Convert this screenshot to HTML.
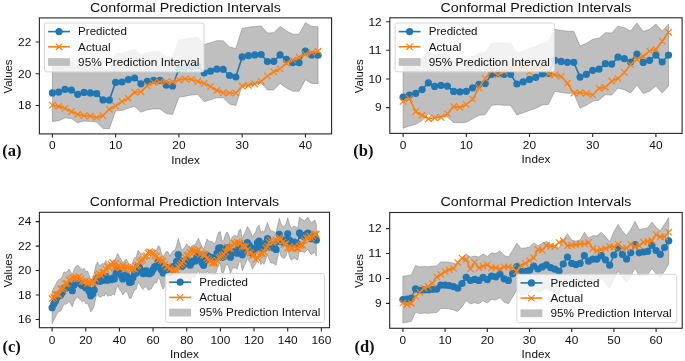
<!DOCTYPE html>
<html><head><meta charset="utf-8"><style>
html,body{margin:0;padding:0;background:#fff;}
svg{display:block;}
#w{will-change:transform;width:685px;height:361px;}
text{font-family:"Liberation Sans",sans-serif;fill:#111;}
.pl{font-family:"Liberation Serif",serif;font-weight:bold;font-size:16.5px;}
</style></head><body><div id="w">
<svg width="685" height="361" viewBox="0 0 685 361">
<rect width="685" height="361" fill="#fff"/>
<clipPath id="clipa"><rect x="39.4" y="17.9" width="292.2" height="116"/></clipPath>
<g clip-path="url(#clipa)">
<polygon points="52.4,64.4 58.73,63.7 65.05,60.8 71.38,61.6 77.7,65.8 84.03,63.9 90.35,64.4 96.67,65.2 103,71.4 109.33,71.7 115.65,53.8 121.97,53.5 128.3,51.1 134.62,49.5 140.95,55.3 147.28,52.8 153.6,51.9 159.93,51.9 166.25,56.6 172.57,57.4 178.9,40.2 185.23,39.2 191.55,38 197.88,37.6 204.2,44.5 210.53,42.7 216.85,40.7 223.18,40.8 229.5,47 235.83,48.5 242.15,28.4 248.48,27.2 254.8,26.4 261.12,26 267.45,33 273.77,32.8 280.1,26.4 286.43,30.9 292.75,34.2 299.07,34.2 305.4,22.7 311.72,26.4 318.05,26.7 318.05,83.7 311.72,83.4 305.4,79.7 299.07,91.2 292.75,91.2 286.43,87.9 280.1,83.4 273.77,89.8 267.45,90 261.12,83 254.8,83.4 248.48,84.2 242.15,85.4 235.83,105.5 229.5,104 223.18,97.8 216.85,97.7 210.53,99.7 204.2,101.5 197.88,94.6 191.55,95 185.23,96.2 178.9,97.2 172.57,114.4 166.25,113.6 159.93,108.9 153.6,108.9 147.28,109.8 140.95,112.3 134.62,106.5 128.3,108.1 121.97,110.5 115.65,110.8 109.33,128.7 103,128.4 96.67,122.2 90.35,121.4 84.03,120.9 77.7,122.8 71.38,118.6 65.05,117.8 58.73,120.7 52.4,121.4" fill="#808080" fill-opacity="0.5" stroke="#808080" stroke-opacity="0.5" stroke-width="1" stroke-linejoin="round"/>
<polyline points="52.4,92.9 58.73,92.2 65.05,89.3 71.38,90.1 77.7,94.3 84.03,92.4 90.35,92.9 96.67,93.7 103,99.9 109.33,100.2 115.65,82.3 121.97,82 128.3,79.6 134.62,78 140.95,83.8 147.28,81.3 153.6,80.4 159.93,80.4 166.25,85.1 172.57,85.9 178.9,68.7 185.23,67.7 191.55,66.5 197.88,66.1 204.2,73 210.53,71.2 216.85,69.2 223.18,69.3 229.5,75.5 235.83,77 242.15,56.9 248.48,55.7 254.8,54.9 261.12,54.5 267.45,61.5 273.77,61.3 280.1,54.9 286.43,59.4 292.75,62.7 299.07,62.7 305.4,51.2 311.72,54.9 318.05,55.2" fill="none" stroke="#1f77b4" stroke-width="1.6" stroke-linejoin="round"/>
<g fill="#1f77b4"><circle cx="52.4" cy="92.9" r="3.6"/><circle cx="58.73" cy="92.2" r="3.6"/><circle cx="65.05" cy="89.3" r="3.6"/><circle cx="71.38" cy="90.1" r="3.6"/><circle cx="77.7" cy="94.3" r="3.6"/><circle cx="84.03" cy="92.4" r="3.6"/><circle cx="90.35" cy="92.9" r="3.6"/><circle cx="96.67" cy="93.7" r="3.6"/><circle cx="103" cy="99.9" r="3.6"/><circle cx="109.33" cy="100.2" r="3.6"/><circle cx="115.65" cy="82.3" r="3.6"/><circle cx="121.97" cy="82" r="3.6"/><circle cx="128.3" cy="79.6" r="3.6"/><circle cx="134.62" cy="78" r="3.6"/><circle cx="140.95" cy="83.8" r="3.6"/><circle cx="147.28" cy="81.3" r="3.6"/><circle cx="153.6" cy="80.4" r="3.6"/><circle cx="159.93" cy="80.4" r="3.6"/><circle cx="166.25" cy="85.1" r="3.6"/><circle cx="172.57" cy="85.9" r="3.6"/><circle cx="178.9" cy="68.7" r="3.6"/><circle cx="185.23" cy="67.7" r="3.6"/><circle cx="191.55" cy="66.5" r="3.6"/><circle cx="197.88" cy="66.1" r="3.6"/><circle cx="204.2" cy="73" r="3.6"/><circle cx="210.53" cy="71.2" r="3.6"/><circle cx="216.85" cy="69.2" r="3.6"/><circle cx="223.18" cy="69.3" r="3.6"/><circle cx="229.5" cy="75.5" r="3.6"/><circle cx="235.83" cy="77" r="3.6"/><circle cx="242.15" cy="56.9" r="3.6"/><circle cx="248.48" cy="55.7" r="3.6"/><circle cx="254.8" cy="54.9" r="3.6"/><circle cx="261.12" cy="54.5" r="3.6"/><circle cx="267.45" cy="61.5" r="3.6"/><circle cx="273.77" cy="61.3" r="3.6"/><circle cx="280.1" cy="54.9" r="3.6"/><circle cx="286.43" cy="59.4" r="3.6"/><circle cx="292.75" cy="62.7" r="3.6"/><circle cx="299.07" cy="62.7" r="3.6"/><circle cx="305.4" cy="51.2" r="3.6"/><circle cx="311.72" cy="54.9" r="3.6"/><circle cx="318.05" cy="55.2" r="3.6"/></g>
<polyline points="52.4,105.1 58.73,106.3 65.05,108.4 71.38,111.6 77.7,114.3 84.03,115.6 90.35,116.1 96.67,117.5 103,115.6 109.33,109.3 115.65,106 121.97,101.5 128.3,98.3 134.62,92.2 140.95,91.8 147.28,85.7 153.6,82.5 159.93,82 166.25,81.5 172.57,81.8 178.9,79.9 185.23,78.8 191.55,79.4 197.88,81.3 204.2,83.4 210.53,86.6 216.85,90.3 223.18,92.8 229.5,93 235.83,93 242.15,86.2 248.48,85.4 254.8,83.9 261.12,81.3 267.45,76 273.77,71.8 280.1,69 286.43,63.2 292.75,60 299.07,57.2 305.4,54.3 311.72,52.5 318.05,51.2" fill="none" stroke="#ff7f0e" stroke-width="1.6" stroke-linejoin="round"/>
<path d="M49.2 101.9L55.6 108.3M49.2 108.3L55.6 101.9M55.52 103.1L61.93 109.5M55.52 109.5L61.93 103.1M61.85 105.2L68.25 111.6M61.85 111.6L68.25 105.2M68.17 108.4L74.58 114.8M68.17 114.8L74.58 108.4M74.5 111.1L80.9 117.5M74.5 117.5L80.9 111.1M80.83 112.4L87.23 118.8M80.83 118.8L87.23 112.4M87.15 112.9L93.55 119.3M87.15 119.3L93.55 112.9M93.47 114.3L99.88 120.7M93.47 120.7L99.88 114.3M99.8 112.4L106.2 118.8M99.8 118.8L106.2 112.4M106.12 106.1L112.53 112.5M106.12 112.5L112.53 106.1M112.45 102.8L118.85 109.2M112.45 109.2L118.85 102.8M118.77 98.3L125.17 104.7M118.77 104.7L125.17 98.3M125.1 95.1L131.5 101.5M125.1 101.5L131.5 95.1M131.43 89L137.82 95.4M131.43 95.4L137.82 89M137.75 88.6L144.15 95M137.75 95L144.15 88.6M144.08 82.5L150.47 88.9M144.08 88.9L150.47 82.5M150.4 79.3L156.8 85.7M150.4 85.7L156.8 79.3M156.73 78.8L163.12 85.2M156.73 85.2L163.12 78.8M163.05 78.3L169.45 84.7M163.05 84.7L169.45 78.3M169.38 78.6L175.77 85M169.38 85L175.77 78.6M175.7 76.7L182.1 83.1M175.7 83.1L182.1 76.7M182.03 75.6L188.43 82M182.03 82L188.43 75.6M188.35 76.2L194.75 82.6M188.35 82.6L194.75 76.2M194.68 78.1L201.07 84.5M194.68 84.5L201.07 78.1M201 80.2L207.4 86.6M201 86.6L207.4 80.2M207.33 83.4L213.72 89.8M207.33 89.8L213.72 83.4M213.65 87.1L220.05 93.5M213.65 93.5L220.05 87.1M219.98 89.6L226.38 96M219.98 96L226.38 89.6M226.3 89.8L232.7 96.2M226.3 96.2L232.7 89.8M232.63 89.8L239.03 96.2M232.63 96.2L239.03 89.8M238.95 83L245.35 89.4M238.95 89.4L245.35 83M245.28 82.2L251.68 88.6M245.28 88.6L251.68 82.2M251.6 80.7L258 87.1M251.6 87.1L258 80.7M257.93 78.1L264.32 84.5M257.93 84.5L264.32 78.1M264.25 72.8L270.65 79.2M264.25 79.2L270.65 72.8M270.57 68.6L276.97 75M270.57 75L276.97 68.6M276.9 65.8L283.3 72.2M276.9 72.2L283.3 65.8M283.23 60L289.62 66.4M283.23 66.4L289.62 60M289.55 56.8L295.95 63.2M289.55 63.2L295.95 56.8M295.88 54L302.27 60.4M295.88 60.4L302.27 54M302.2 51.1L308.6 57.5M302.2 57.5L308.6 51.1M308.52 49.3L314.92 55.7M308.52 55.7L314.92 49.3M314.85 48L321.25 54.4M314.85 54.4L321.25 48" stroke="#ff7f0e" stroke-width="1.2" fill="none"/>
</g>
<rect x="39.4" y="17.9" width="292.2" height="116" fill="none" stroke="#262626" stroke-width="1.1"/>
<text x="52.4" y="149" font-size="10.59" text-anchor="middle" textLength="6.62" lengthAdjust="spacingAndGlyphs">0</text>
<text x="115.65" y="149" font-size="10.59" text-anchor="middle" textLength="13.23" lengthAdjust="spacingAndGlyphs">10</text>
<text x="178.9" y="149" font-size="10.59" text-anchor="middle" textLength="13.23" lengthAdjust="spacingAndGlyphs">20</text>
<text x="242.15" y="149" font-size="10.59" text-anchor="middle" textLength="13.23" lengthAdjust="spacingAndGlyphs">30</text>
<text x="305.4" y="149" font-size="10.59" text-anchor="middle" textLength="13.23" lengthAdjust="spacingAndGlyphs">40</text>
<text x="31.3" y="45.8" font-size="10.59" text-anchor="end" textLength="13.23" lengthAdjust="spacingAndGlyphs">22</text>
<text x="31.3" y="77.5" font-size="10.59" text-anchor="end" textLength="13.23" lengthAdjust="spacingAndGlyphs">20</text>
<text x="31.3" y="109.3" font-size="10.59" text-anchor="end" textLength="13.23" lengthAdjust="spacingAndGlyphs">18</text>
<path d="M52.4 133.9V137.6M115.65 133.9V137.6M178.9 133.9V137.6M242.15 133.9V137.6M305.4 133.9V137.6M39.4 42H35.7M39.4 73.7H35.7M39.4 105.5H35.7" stroke="#262626" stroke-width="1.1"/>
<text x="185.5" y="163.6" font-size="10.59" text-anchor="middle" textLength="28.63" lengthAdjust="spacingAndGlyphs">Index</text>
<g transform="translate(12.3,76.5) rotate(-90)"><text x="0" y="0" font-size="10.59" text-anchor="middle" textLength="33.98" lengthAdjust="spacingAndGlyphs">Values</text></g>
<text x="185.5" y="11.8" font-size="12.85" text-anchor="middle" textLength="190.82" lengthAdjust="spacingAndGlyphs">Conformal Prediction Intervals</text>
<text x="2.3" y="155.5" class="pl">(a)</text>
<rect x="44.5" y="23" width="159.5" height="48.9" rx="2" ry="2" fill="#ffffff" fill-opacity="0.8" stroke="#d6d6d6" stroke-width="1"/>
<path d="M48.1 31.6H69.9" stroke="#1f77b4" stroke-width="1.6"/>
<circle cx="59" cy="31.6" r="3.6" fill="#1f77b4"/>
<path d="M48.1 46.8H69.9" stroke="#ff7f0e" stroke-width="1.6"/>
<path d="M55.8 43.6L62.2 50M55.8 50L62.2 43.6" stroke="#ff7f0e" stroke-width="1.1"/>
<rect x="48.1" y="58.1" width="21.8" height="7.8" fill="#bfbfbf"/>
<text x="78.1" y="35.3" font-size="10.59" text-anchor="start" textLength="48.82" lengthAdjust="spacingAndGlyphs">Predicted</text>
<text x="78.1" y="50.5" font-size="10.59" text-anchor="start" textLength="32.58" lengthAdjust="spacingAndGlyphs">Actual</text>
<text x="78.1" y="65.7" font-size="10.59" text-anchor="start" textLength="121.22" lengthAdjust="spacingAndGlyphs">95% Prediction Interval</text>
<clipPath id="clipb"><rect x="389.8" y="17.8" width="292.3" height="115.6"/></clipPath>
<g clip-path="url(#clipb)">
<polygon points="403.1,66.2 409.42,64 415.74,62.3 422.06,58.6 428.38,51.8 434.7,55.4 441.02,54.3 447.34,55.1 453.66,60.4 459.98,60.8 466.3,60.3 472.62,56.8 478.94,53.3 485.26,52.6 491.58,43.3 497.9,42.7 504.22,43.3 510.54,43.3 516.86,53 523.18,50.8 529.5,48.4 535.82,46.3 542.14,43 548.46,42.3 554.78,29.3 561.1,30.4 567.42,31.3 573.74,31.3 580.06,46.1 586.38,43.3 592.7,39.3 599.02,38.2 605.34,32.7 611.66,33.1 617.98,26.2 624.3,27.7 630.62,31 636.94,23.1 643.26,31.4 649.58,29.3 655.9,24.1 662.22,31 668.54,24.1 668.54,86.1 662.22,93 655.9,86.1 649.58,91.3 643.26,93.4 636.94,85.1 630.62,93 624.3,89.7 617.98,88.2 611.66,95.1 605.34,94.7 599.02,100.2 592.7,101.3 586.38,105.3 580.06,108.1 573.74,93.3 567.42,93.3 561.1,92.4 554.78,91.3 548.46,104.3 542.14,105 535.82,108.3 529.5,110.4 523.18,112.8 516.86,115 510.54,105.3 504.22,105.3 497.9,104.7 491.58,105.3 485.26,114.6 478.94,115.3 472.62,118.8 466.3,122.3 459.98,122.8 453.66,122.4 447.34,117.1 441.02,116.3 434.7,117.4 428.38,113.8 422.06,120.6 415.74,124.3 409.42,126 403.1,128.2" fill="#808080" fill-opacity="0.5" stroke="#808080" stroke-opacity="0.5" stroke-width="1" stroke-linejoin="round"/>
<polyline points="403.1,97.2 409.42,95 415.74,93.3 422.06,89.6 428.38,82.8 434.7,86.4 441.02,85.3 447.34,86.1 453.66,91.4 459.98,91.8 466.3,91.3 472.62,87.8 478.94,84.3 485.26,83.6 491.58,74.3 497.9,73.7 504.22,74.3 510.54,74.3 516.86,84 523.18,81.8 529.5,79.4 535.82,77.3 542.14,74 548.46,73.3 554.78,60.3 561.1,61.4 567.42,62.3 573.74,62.3 580.06,77.1 586.38,74.3 592.7,70.3 599.02,69.2 605.34,63.7 611.66,64.1 617.98,57.2 624.3,58.7 630.62,62 636.94,54.1 643.26,62.4 649.58,60.3 655.9,55.1 662.22,62 668.54,55.1" fill="none" stroke="#1f77b4" stroke-width="1.6" stroke-linejoin="round"/>
<g fill="#1f77b4"><circle cx="403.1" cy="97.2" r="3.6"/><circle cx="409.42" cy="95" r="3.6"/><circle cx="415.74" cy="93.3" r="3.6"/><circle cx="422.06" cy="89.6" r="3.6"/><circle cx="428.38" cy="82.8" r="3.6"/><circle cx="434.7" cy="86.4" r="3.6"/><circle cx="441.02" cy="85.3" r="3.6"/><circle cx="447.34" cy="86.1" r="3.6"/><circle cx="453.66" cy="91.4" r="3.6"/><circle cx="459.98" cy="91.8" r="3.6"/><circle cx="466.3" cy="91.3" r="3.6"/><circle cx="472.62" cy="87.8" r="3.6"/><circle cx="478.94" cy="84.3" r="3.6"/><circle cx="485.26" cy="83.6" r="3.6"/><circle cx="491.58" cy="74.3" r="3.6"/><circle cx="497.9" cy="73.7" r="3.6"/><circle cx="504.22" cy="74.3" r="3.6"/><circle cx="510.54" cy="74.3" r="3.6"/><circle cx="516.86" cy="84" r="3.6"/><circle cx="523.18" cy="81.8" r="3.6"/><circle cx="529.5" cy="79.4" r="3.6"/><circle cx="535.82" cy="77.3" r="3.6"/><circle cx="542.14" cy="74" r="3.6"/><circle cx="548.46" cy="73.3" r="3.6"/><circle cx="554.78" cy="60.3" r="3.6"/><circle cx="561.1" cy="61.4" r="3.6"/><circle cx="567.42" cy="62.3" r="3.6"/><circle cx="573.74" cy="62.3" r="3.6"/><circle cx="580.06" cy="77.1" r="3.6"/><circle cx="586.38" cy="74.3" r="3.6"/><circle cx="592.7" cy="70.3" r="3.6"/><circle cx="599.02" cy="69.2" r="3.6"/><circle cx="605.34" cy="63.7" r="3.6"/><circle cx="611.66" cy="64.1" r="3.6"/><circle cx="617.98" cy="57.2" r="3.6"/><circle cx="624.3" cy="58.7" r="3.6"/><circle cx="630.62" cy="62" r="3.6"/><circle cx="636.94" cy="54.1" r="3.6"/><circle cx="643.26" cy="62.4" r="3.6"/><circle cx="649.58" cy="60.3" r="3.6"/><circle cx="655.9" cy="55.1" r="3.6"/><circle cx="662.22" cy="62" r="3.6"/><circle cx="668.54" cy="55.1" r="3.6"/></g>
<polyline points="403.1,101.5 409.42,98.6 415.74,111.6 422.06,115.2 428.38,118.8 434.7,117.8 441.02,117.4 447.34,113.8 453.66,106.6 459.98,107.4 466.3,104.5 472.62,99.2 478.94,87.8 485.26,78.5 491.58,70.5 497.9,75 504.22,71.5 510.54,68.5 516.86,68 523.18,67.5 529.5,72 535.82,68 542.14,67.5 548.46,74.1 554.78,74.8 561.1,76.4 567.42,83.2 573.74,93.1 580.06,92.6 586.38,93.3 592.7,95 599.02,88.4 605.34,87.4 611.66,81.1 617.98,78.6 624.3,72.4 630.62,64.5 636.94,59.3 643.26,56.2 649.58,51 655.9,49.5 662.22,41.2 668.54,32.3" fill="none" stroke="#ff7f0e" stroke-width="1.6" stroke-linejoin="round"/>
<path d="M399.9 98.3L406.3 104.7M399.9 104.7L406.3 98.3M406.22 95.4L412.62 101.8M406.22 101.8L412.62 95.4M412.54 108.4L418.94 114.8M412.54 114.8L418.94 108.4M418.86 112L425.26 118.4M418.86 118.4L425.26 112M425.18 115.6L431.58 122M425.18 122L431.58 115.6M431.5 114.6L437.9 121M431.5 121L437.9 114.6M437.82 114.2L444.22 120.6M437.82 120.6L444.22 114.2M444.14 110.6L450.54 117M444.14 117L450.54 110.6M450.46 103.4L456.86 109.8M450.46 109.8L456.86 103.4M456.78 104.2L463.18 110.6M456.78 110.6L463.18 104.2M463.1 101.3L469.5 107.7M463.1 107.7L469.5 101.3M469.42 96L475.82 102.4M469.42 102.4L475.82 96M475.74 84.6L482.14 91M475.74 91L482.14 84.6M482.06 75.3L488.46 81.7M482.06 81.7L488.46 75.3M488.38 67.3L494.78 73.7M488.38 73.7L494.78 67.3M494.7 71.8L501.1 78.2M494.7 78.2L501.1 71.8M501.02 68.3L507.42 74.7M501.02 74.7L507.42 68.3M507.34 65.3L513.74 71.7M507.34 71.7L513.74 65.3M513.66 64.8L520.06 71.2M513.66 71.2L520.06 64.8M519.98 64.3L526.38 70.7M519.98 70.7L526.38 64.3M526.3 68.8L532.7 75.2M526.3 75.2L532.7 68.8M532.62 64.8L539.02 71.2M532.62 71.2L539.02 64.8M538.94 64.3L545.34 70.7M538.94 70.7L545.34 64.3M545.26 70.9L551.66 77.3M545.26 77.3L551.66 70.9M551.58 71.6L557.98 78M551.58 78L557.98 71.6M557.9 73.2L564.3 79.6M557.9 79.6L564.3 73.2M564.22 80L570.62 86.4M564.22 86.4L570.62 80M570.54 89.9L576.94 96.3M570.54 96.3L576.94 89.9M576.86 89.4L583.26 95.8M576.86 95.8L583.26 89.4M583.18 90.1L589.58 96.5M583.18 96.5L589.58 90.1M589.5 91.8L595.9 98.2M589.5 98.2L595.9 91.8M595.82 85.2L602.22 91.6M595.82 91.6L602.22 85.2M602.14 84.2L608.54 90.6M602.14 90.6L608.54 84.2M608.46 77.9L614.86 84.3M608.46 84.3L614.86 77.9M614.78 75.4L621.18 81.8M614.78 81.8L621.18 75.4M621.1 69.2L627.5 75.6M621.1 75.6L627.5 69.2M627.42 61.3L633.82 67.7M627.42 67.7L633.82 61.3M633.74 56.1L640.14 62.5M633.74 62.5L640.14 56.1M640.06 53L646.46 59.4M640.06 59.4L646.46 53M646.38 47.8L652.78 54.2M646.38 54.2L652.78 47.8M652.7 46.3L659.1 52.7M652.7 52.7L659.1 46.3M659.02 38L665.42 44.4M659.02 44.4L665.42 38M665.34 29.1L671.74 35.5M665.34 35.5L671.74 29.1" stroke="#ff7f0e" stroke-width="1.2" fill="none"/>
</g>
<rect x="389.8" y="17.8" width="292.3" height="115.6" fill="none" stroke="#262626" stroke-width="1.1"/>
<text x="403.1" y="149" font-size="10.59" text-anchor="middle" textLength="6.62" lengthAdjust="spacingAndGlyphs">0</text>
<text x="466.3" y="149" font-size="10.59" text-anchor="middle" textLength="13.23" lengthAdjust="spacingAndGlyphs">10</text>
<text x="529.5" y="149" font-size="10.59" text-anchor="middle" textLength="13.23" lengthAdjust="spacingAndGlyphs">20</text>
<text x="592.7" y="149" font-size="10.59" text-anchor="middle" textLength="13.23" lengthAdjust="spacingAndGlyphs">30</text>
<text x="655.9" y="149" font-size="10.59" text-anchor="middle" textLength="13.23" lengthAdjust="spacingAndGlyphs">40</text>
<text x="381.7" y="25.5" font-size="10.59" text-anchor="end" textLength="13.23" lengthAdjust="spacingAndGlyphs">12</text>
<text x="381.7" y="54.1" font-size="10.59" text-anchor="end" textLength="13.23" lengthAdjust="spacingAndGlyphs">11</text>
<text x="381.7" y="82.8" font-size="10.59" text-anchor="end" textLength="13.23" lengthAdjust="spacingAndGlyphs">10</text>
<text x="381.7" y="111.4" font-size="10.59" text-anchor="end" textLength="6.62" lengthAdjust="spacingAndGlyphs">9</text>
<path d="M403.1 133.4V137.1M466.3 133.4V137.1M529.5 133.4V137.1M592.7 133.4V137.1M655.9 133.4V137.1M389.8 21.7H386.1M389.8 50.3H386.1M389.8 79H386.1M389.8 107.6H386.1" stroke="#262626" stroke-width="1.1"/>
<text x="535.95" y="163.4" font-size="10.59" text-anchor="middle" textLength="28.63" lengthAdjust="spacingAndGlyphs">Index</text>
<g transform="translate(362.5,76.2) rotate(-90)"><text x="0" y="0" font-size="10.59" text-anchor="middle" textLength="33.98" lengthAdjust="spacingAndGlyphs">Values</text></g>
<text x="535.95" y="11.8" font-size="12.85" text-anchor="middle" textLength="190.82" lengthAdjust="spacingAndGlyphs">Conformal Prediction Intervals</text>
<text x="353.3" y="155.6" class="pl">(b)</text>
<rect x="395.1" y="23" width="159.3" height="48.8" rx="2" ry="2" fill="#ffffff" fill-opacity="0.8" stroke="#d6d6d6" stroke-width="1"/>
<path d="M398.7 31.6H420.5" stroke="#1f77b4" stroke-width="1.6"/>
<circle cx="409.6" cy="31.6" r="3.6" fill="#1f77b4"/>
<path d="M398.7 46.8H420.5" stroke="#ff7f0e" stroke-width="1.6"/>
<path d="M406.4 43.6L412.8 50M406.4 50L412.8 43.6" stroke="#ff7f0e" stroke-width="1.1"/>
<rect x="398.7" y="58.1" width="21.8" height="7.8" fill="#bfbfbf"/>
<text x="428.7" y="35.3" font-size="10.59" text-anchor="start" textLength="48.82" lengthAdjust="spacingAndGlyphs">Predicted</text>
<text x="428.7" y="50.5" font-size="10.59" text-anchor="start" textLength="32.58" lengthAdjust="spacingAndGlyphs">Actual</text>
<text x="428.7" y="65.7" font-size="10.59" text-anchor="start" textLength="121.22" lengthAdjust="spacingAndGlyphs">95% Prediction Interval</text>
<clipPath id="clipc"><rect x="39.4" y="212.3" width="290.1" height="115.4"/></clipPath>
<g clip-path="url(#clipc)">
<polygon points="52.1,291.69 53.78,287.93 55.47,284.93 57.15,281.56 58.83,279.39 60.52,279.2 62.2,276.4 63.88,272.05 65.56,272.22 67.25,271.6 68.93,269.07 70.61,271.83 72.3,274.74 73.98,269.34 75.66,266.86 77.34,265.07 79.03,266.5 80.71,268.27 82.39,269.72 84.08,268.2 85.76,271.65 87.44,271.05 89.13,275.16 90.81,279.83 92.49,277.95 94.18,273.95 95.86,265.29 97.54,262.11 99.22,265.1 100.91,265.08 102.59,263.51 104.27,264.07 105.96,260.45 107.64,264.29 109.32,263.34 111,263.64 112.69,262 114.37,263.06 116.05,257.27 117.74,253.44 119.42,257.14 121.1,259.17 122.79,262.94 124.47,260.77 126.15,258.96 127.84,261.65 129.52,266.45 131.2,265.95 132.88,261.7 134.57,257.79 136.25,257.11 137.93,250.49 139.62,251.9 141.3,255.03 142.98,257.62 144.66,255.04 146.35,254.87 148.03,257.75 149.71,257.81 151.4,256.59 153.08,253.55 154.76,250.53 156.45,251 158.13,245.85 159.81,247.02 161.5,254.11 163.18,257.01 164.86,253.85 166.54,251.3 168.23,252.1 169.91,256.45 171.59,252.44 173.28,250.61 174.96,250.24 176.64,245.25 178.33,238.49 180.01,244.51 181.69,250.39 183.37,249.03 185.06,247.02 186.74,243.65 188.42,246.79 190.11,249.22 191.79,246.08 193.47,245 195.16,244.91 196.84,240.97 198.52,238.33 200.2,242.92 201.89,246.42 203.57,249.35 205.25,244.66 206.94,239.15 208.62,240.67 210.3,241.65 211.98,241.61 213.67,243.26 215.35,242.97 217.03,237.01 218.72,232.13 220.4,231.84 222.08,241.42 223.77,240.24 225.45,234.22 227.13,231.95 228.81,235.03 230.5,241.16 232.18,237.1 233.86,235.87 235.55,235.39 237.23,237.26 238.91,230.6 240.6,229.06 242.28,238.87 243.96,234.47 245.65,231.18 247.33,226.62 249.01,229 250.69,231.6 252.38,237.25 254.06,234.21 255.74,231.85 257.43,226.64 259.11,225.13 260.79,232.62 262.48,230.73 264.16,232.26 265.84,227.03 267.52,222.53 269.21,227.48 270.89,230.98 272.57,230.94 274.26,231.73 275.94,233.41 277.62,225.59 279.31,218.3 280.99,223.8 282.67,225.96 284.35,226.35 286.04,223.8 287.72,217.84 289.4,224.12 291.09,228.17 292.77,226.9 294.45,226.11 296.13,227.31 297.82,228.03 299.5,216.93 301.18,219.14 302.87,219.56 304.55,220.91 306.23,218.71 307.92,217.16 309.6,220.15 311.28,222.64 312.97,221.46 314.65,220 316.33,224.13 316.33,256.13 314.65,252 312.97,253.46 311.28,254.64 309.6,252.15 307.92,249.16 306.23,250.71 304.55,252.91 302.87,251.56 301.18,251.14 299.5,248.93 297.82,260.03 296.13,259.31 294.45,258.11 292.77,258.9 291.09,260.17 289.4,256.12 287.72,249.84 286.04,255.8 284.35,258.35 282.67,257.96 280.99,255.8 279.31,250.3 277.62,257.59 275.94,265.41 274.26,263.73 272.57,262.94 270.89,262.98 269.21,259.48 267.52,254.53 265.84,259.03 264.16,264.26 262.48,262.73 260.79,264.62 259.11,257.13 257.43,258.64 255.74,263.85 254.06,266.21 252.38,269.25 250.69,263.6 249.01,261 247.33,258.62 245.65,263.18 243.96,266.47 242.28,270.87 240.6,261.06 238.91,262.6 237.23,269.26 235.55,267.39 233.86,267.87 232.18,269.1 230.5,273.16 228.81,267.03 227.13,263.95 225.45,266.22 223.77,272.24 222.08,273.42 220.4,263.84 218.72,264.13 217.03,269.01 215.35,274.97 213.67,275.26 211.98,273.61 210.3,273.65 208.62,272.67 206.94,271.15 205.25,276.66 203.57,281.35 201.89,278.42 200.2,274.92 198.52,270.33 196.84,272.97 195.16,276.91 193.47,277 191.79,278.08 190.11,281.22 188.42,278.79 186.74,275.65 185.06,279.02 183.37,281.03 181.69,282.39 180.01,276.51 178.33,270.49 176.64,277.25 174.96,282.24 173.28,282.61 171.59,284.44 169.91,288.45 168.23,284.1 166.54,283.3 164.86,285.85 163.18,289.01 161.5,286.11 159.81,279.02 158.13,277.85 156.45,283 154.76,282.53 153.08,285.55 151.4,288.59 149.71,289.81 148.03,289.75 146.35,286.87 144.66,287.04 142.98,289.62 141.3,287.03 139.62,283.9 137.93,282.49 136.25,289.11 134.57,289.79 132.88,293.7 131.2,297.95 129.52,298.45 127.84,293.65 126.15,290.96 124.47,292.77 122.79,294.94 121.1,291.17 119.42,289.14 117.74,285.44 116.05,289.27 114.37,295.06 112.69,294 111,295.64 109.32,295.34 107.64,296.29 105.96,292.45 104.27,296.07 102.59,295.51 100.91,297.08 99.22,297.1 97.54,294.11 95.86,297.29 94.18,305.95 92.49,309.95 90.81,311.83 89.13,307.16 87.44,303.05 85.76,303.65 84.08,300.2 82.39,301.72 80.71,300.27 79.03,298.5 77.34,297.07 75.66,298.86 73.98,301.34 72.3,306.74 70.61,303.83 68.93,301.07 67.25,303.6 65.56,304.22 63.88,304.05 62.2,308.4 60.52,311.2 58.83,311.39 57.15,313.56 55.47,316.93 53.78,319.93 52.1,323.69" fill="#808080" fill-opacity="0.5" stroke="#808080" stroke-opacity="0.5" stroke-width="1" stroke-linejoin="round"/>
<polyline points="52.1,307.69 53.78,303.93 55.47,300.93 57.15,297.56 58.83,295.39 60.52,295.2 62.2,292.4 63.88,288.05 65.56,288.22 67.25,287.6 68.93,285.07 70.61,287.83 72.3,290.74 73.98,285.34 75.66,282.86 77.34,281.07 79.03,282.5 80.71,284.27 82.39,285.72 84.08,284.2 85.76,287.65 87.44,287.05 89.13,291.16 90.81,295.83 92.49,293.95 94.18,289.95 95.86,281.29 97.54,278.11 99.22,281.1 100.91,281.08 102.59,279.51 104.27,280.07 105.96,276.45 107.64,280.29 109.32,279.34 111,279.64 112.69,278 114.37,279.06 116.05,273.27 117.74,269.44 119.42,273.14 121.1,275.17 122.79,278.94 124.47,276.77 126.15,274.96 127.84,277.65 129.52,282.45 131.2,281.95 132.88,277.7 134.57,273.79 136.25,273.11 137.93,266.49 139.62,267.9 141.3,271.03 142.98,273.62 144.66,271.04 146.35,270.87 148.03,273.75 149.71,273.81 151.4,272.59 153.08,269.55 154.76,266.53 156.45,267 158.13,261.85 159.81,263.02 161.5,270.11 163.18,273.01 164.86,269.85 166.54,267.3 168.23,268.1 169.91,272.45 171.59,268.44 173.28,266.61 174.96,266.24 176.64,261.25 178.33,254.49 180.01,260.51 181.69,266.39 183.37,265.03 185.06,263.02 186.74,259.65 188.42,262.79 190.11,265.22 191.79,262.08 193.47,261 195.16,260.91 196.84,256.97 198.52,254.33 200.2,258.92 201.89,262.42 203.57,265.35 205.25,260.66 206.94,255.15 208.62,256.67 210.3,257.65 211.98,257.61 213.67,259.26 215.35,258.97 217.03,253.01 218.72,248.13 220.4,247.84 222.08,257.42 223.77,256.24 225.45,250.22 227.13,247.95 228.81,251.03 230.5,257.16 232.18,253.1 233.86,251.87 235.55,251.39 237.23,253.26 238.91,246.6 240.6,245.06 242.28,254.87 243.96,250.47 245.65,247.18 247.33,242.62 249.01,245 250.69,247.6 252.38,253.25 254.06,250.21 255.74,247.85 257.43,242.64 259.11,241.13 260.79,248.62 262.48,246.73 264.16,248.26 265.84,243.03 267.52,238.53 269.21,243.48 270.89,246.98 272.57,246.94 274.26,247.73 275.94,249.41 277.62,241.59 279.31,234.3 280.99,239.8 282.67,241.96 284.35,242.35 286.04,239.8 287.72,233.84 289.4,240.12 291.09,244.17 292.77,242.9 294.45,242.11 296.13,243.31 297.82,244.03 299.5,232.93 301.18,235.14 302.87,235.56 304.55,236.91 306.23,234.71 307.92,233.16 309.6,236.15 311.28,238.64 312.97,237.46 314.65,236 316.33,240.13" fill="none" stroke="#1f77b4" stroke-width="1.6" stroke-linejoin="round"/>
<g fill="#1f77b4"><circle cx="52.1" cy="307.69" r="3.6"/><circle cx="53.78" cy="303.93" r="3.6"/><circle cx="55.47" cy="300.93" r="3.6"/><circle cx="57.15" cy="297.56" r="3.6"/><circle cx="58.83" cy="295.39" r="3.6"/><circle cx="60.52" cy="295.2" r="3.6"/><circle cx="62.2" cy="292.4" r="3.6"/><circle cx="63.88" cy="288.05" r="3.6"/><circle cx="65.56" cy="288.22" r="3.6"/><circle cx="67.25" cy="287.6" r="3.6"/><circle cx="68.93" cy="285.07" r="3.6"/><circle cx="70.61" cy="287.83" r="3.6"/><circle cx="72.3" cy="290.74" r="3.6"/><circle cx="73.98" cy="285.34" r="3.6"/><circle cx="75.66" cy="282.86" r="3.6"/><circle cx="77.34" cy="281.07" r="3.6"/><circle cx="79.03" cy="282.5" r="3.6"/><circle cx="80.71" cy="284.27" r="3.6"/><circle cx="82.39" cy="285.72" r="3.6"/><circle cx="84.08" cy="284.2" r="3.6"/><circle cx="85.76" cy="287.65" r="3.6"/><circle cx="87.44" cy="287.05" r="3.6"/><circle cx="89.13" cy="291.16" r="3.6"/><circle cx="90.81" cy="295.83" r="3.6"/><circle cx="92.49" cy="293.95" r="3.6"/><circle cx="94.18" cy="289.95" r="3.6"/><circle cx="95.86" cy="281.29" r="3.6"/><circle cx="97.54" cy="278.11" r="3.6"/><circle cx="99.22" cy="281.1" r="3.6"/><circle cx="100.91" cy="281.08" r="3.6"/><circle cx="102.59" cy="279.51" r="3.6"/><circle cx="104.27" cy="280.07" r="3.6"/><circle cx="105.96" cy="276.45" r="3.6"/><circle cx="107.64" cy="280.29" r="3.6"/><circle cx="109.32" cy="279.34" r="3.6"/><circle cx="111" cy="279.64" r="3.6"/><circle cx="112.69" cy="278" r="3.6"/><circle cx="114.37" cy="279.06" r="3.6"/><circle cx="116.05" cy="273.27" r="3.6"/><circle cx="117.74" cy="269.44" r="3.6"/><circle cx="119.42" cy="273.14" r="3.6"/><circle cx="121.1" cy="275.17" r="3.6"/><circle cx="122.79" cy="278.94" r="3.6"/><circle cx="124.47" cy="276.77" r="3.6"/><circle cx="126.15" cy="274.96" r="3.6"/><circle cx="127.84" cy="277.65" r="3.6"/><circle cx="129.52" cy="282.45" r="3.6"/><circle cx="131.2" cy="281.95" r="3.6"/><circle cx="132.88" cy="277.7" r="3.6"/><circle cx="134.57" cy="273.79" r="3.6"/><circle cx="136.25" cy="273.11" r="3.6"/><circle cx="137.93" cy="266.49" r="3.6"/><circle cx="139.62" cy="267.9" r="3.6"/><circle cx="141.3" cy="271.03" r="3.6"/><circle cx="142.98" cy="273.62" r="3.6"/><circle cx="144.66" cy="271.04" r="3.6"/><circle cx="146.35" cy="270.87" r="3.6"/><circle cx="148.03" cy="273.75" r="3.6"/><circle cx="149.71" cy="273.81" r="3.6"/><circle cx="151.4" cy="272.59" r="3.6"/><circle cx="153.08" cy="269.55" r="3.6"/><circle cx="154.76" cy="266.53" r="3.6"/><circle cx="156.45" cy="267" r="3.6"/><circle cx="158.13" cy="261.85" r="3.6"/><circle cx="159.81" cy="263.02" r="3.6"/><circle cx="161.5" cy="270.11" r="3.6"/><circle cx="163.18" cy="273.01" r="3.6"/><circle cx="164.86" cy="269.85" r="3.6"/><circle cx="166.54" cy="267.3" r="3.6"/><circle cx="168.23" cy="268.1" r="3.6"/><circle cx="169.91" cy="272.45" r="3.6"/><circle cx="171.59" cy="268.44" r="3.6"/><circle cx="173.28" cy="266.61" r="3.6"/><circle cx="174.96" cy="266.24" r="3.6"/><circle cx="176.64" cy="261.25" r="3.6"/><circle cx="178.33" cy="254.49" r="3.6"/><circle cx="180.01" cy="260.51" r="3.6"/><circle cx="181.69" cy="266.39" r="3.6"/><circle cx="183.37" cy="265.03" r="3.6"/><circle cx="185.06" cy="263.02" r="3.6"/><circle cx="186.74" cy="259.65" r="3.6"/><circle cx="188.42" cy="262.79" r="3.6"/><circle cx="190.11" cy="265.22" r="3.6"/><circle cx="191.79" cy="262.08" r="3.6"/><circle cx="193.47" cy="261" r="3.6"/><circle cx="195.16" cy="260.91" r="3.6"/><circle cx="196.84" cy="256.97" r="3.6"/><circle cx="198.52" cy="254.33" r="3.6"/><circle cx="200.2" cy="258.92" r="3.6"/><circle cx="201.89" cy="262.42" r="3.6"/><circle cx="203.57" cy="265.35" r="3.6"/><circle cx="205.25" cy="260.66" r="3.6"/><circle cx="206.94" cy="255.15" r="3.6"/><circle cx="208.62" cy="256.67" r="3.6"/><circle cx="210.3" cy="257.65" r="3.6"/><circle cx="211.98" cy="257.61" r="3.6"/><circle cx="213.67" cy="259.26" r="3.6"/><circle cx="215.35" cy="258.97" r="3.6"/><circle cx="217.03" cy="253.01" r="3.6"/><circle cx="218.72" cy="248.13" r="3.6"/><circle cx="220.4" cy="247.84" r="3.6"/><circle cx="222.08" cy="257.42" r="3.6"/><circle cx="223.77" cy="256.24" r="3.6"/><circle cx="225.45" cy="250.22" r="3.6"/><circle cx="227.13" cy="247.95" r="3.6"/><circle cx="228.81" cy="251.03" r="3.6"/><circle cx="230.5" cy="257.16" r="3.6"/><circle cx="232.18" cy="253.1" r="3.6"/><circle cx="233.86" cy="251.87" r="3.6"/><circle cx="235.55" cy="251.39" r="3.6"/><circle cx="237.23" cy="253.26" r="3.6"/><circle cx="238.91" cy="246.6" r="3.6"/><circle cx="240.6" cy="245.06" r="3.6"/><circle cx="242.28" cy="254.87" r="3.6"/><circle cx="243.96" cy="250.47" r="3.6"/><circle cx="245.65" cy="247.18" r="3.6"/><circle cx="247.33" cy="242.62" r="3.6"/><circle cx="249.01" cy="245" r="3.6"/><circle cx="250.69" cy="247.6" r="3.6"/><circle cx="252.38" cy="253.25" r="3.6"/><circle cx="254.06" cy="250.21" r="3.6"/><circle cx="255.74" cy="247.85" r="3.6"/><circle cx="257.43" cy="242.64" r="3.6"/><circle cx="259.11" cy="241.13" r="3.6"/><circle cx="260.79" cy="248.62" r="3.6"/><circle cx="262.48" cy="246.73" r="3.6"/><circle cx="264.16" cy="248.26" r="3.6"/><circle cx="265.84" cy="243.03" r="3.6"/><circle cx="267.52" cy="238.53" r="3.6"/><circle cx="269.21" cy="243.48" r="3.6"/><circle cx="270.89" cy="246.98" r="3.6"/><circle cx="272.57" cy="246.94" r="3.6"/><circle cx="274.26" cy="247.73" r="3.6"/><circle cx="275.94" cy="249.41" r="3.6"/><circle cx="277.62" cy="241.59" r="3.6"/><circle cx="279.31" cy="234.3" r="3.6"/><circle cx="280.99" cy="239.8" r="3.6"/><circle cx="282.67" cy="241.96" r="3.6"/><circle cx="284.35" cy="242.35" r="3.6"/><circle cx="286.04" cy="239.8" r="3.6"/><circle cx="287.72" cy="233.84" r="3.6"/><circle cx="289.4" cy="240.12" r="3.6"/><circle cx="291.09" cy="244.17" r="3.6"/><circle cx="292.77" cy="242.9" r="3.6"/><circle cx="294.45" cy="242.11" r="3.6"/><circle cx="296.13" cy="243.31" r="3.6"/><circle cx="297.82" cy="244.03" r="3.6"/><circle cx="299.5" cy="232.93" r="3.6"/><circle cx="301.18" cy="235.14" r="3.6"/><circle cx="302.87" cy="235.56" r="3.6"/><circle cx="304.55" cy="236.91" r="3.6"/><circle cx="306.23" cy="234.71" r="3.6"/><circle cx="307.92" cy="233.16" r="3.6"/><circle cx="309.6" cy="236.15" r="3.6"/><circle cx="311.28" cy="238.64" r="3.6"/><circle cx="312.97" cy="237.46" r="3.6"/><circle cx="314.65" cy="236" r="3.6"/><circle cx="316.33" cy="240.13" r="3.6"/></g>
<polyline points="52.1,298.67 53.78,297.46 55.47,294.06 57.15,294.4 58.83,294.57 60.52,288.48 62.2,289.23 63.88,288.09 65.56,283.77 67.25,283.46 68.93,279.93 70.61,278.89 72.3,277.51 73.98,278.28 75.66,277.58 77.34,278.61 79.03,276.55 80.71,278.76 82.39,281.33 84.08,281.98 85.76,280.78 87.44,283.73 89.13,282.61 90.81,283.09 92.49,282.1 94.18,282.26 95.86,279.2 97.54,275 99.22,273.97 100.91,275.01 102.59,272.03 104.27,272.12 105.96,269.27 107.64,266.43 109.32,267.81 111,264.35 112.69,262.45 114.37,267.99 116.05,263.02 117.74,266.75 119.42,267.57 121.1,267.04 122.79,265.29 124.47,269.43 126.15,266.72 127.84,267.27 129.52,268.89 131.2,269.96 132.88,268.9 134.57,268.85 136.25,266.22 137.93,265.33 139.62,261.85 141.3,260.69 142.98,259.65 144.66,256.35 146.35,255.53 148.03,252.75 149.71,251.73 151.4,252.59 153.08,253.38 154.76,255.55 156.45,256.42 158.13,259.86 159.81,258.86 161.5,260.54 163.18,261.18 164.86,264.29 166.54,266.88 168.23,266.6 169.91,268.72 171.59,270.95 173.28,270.08 174.96,269.15 176.64,270.67 178.33,266.95 180.01,264.76 181.69,263.41 183.37,261.34 185.06,257.36 186.74,255.31 188.42,254.63 190.11,252.44 191.79,249.3 193.47,252.58 195.16,250.53 196.84,251.46 198.52,249.64 200.2,254.17 201.89,253.1 203.57,255.09 205.25,255.03 206.94,258.33 208.62,259.86 210.3,261.23 211.98,263.35 213.67,262.87 215.35,263.21 217.03,260.48 218.72,257.8 220.4,256.96 222.08,255.68 223.77,254.37 225.45,251.69 227.13,246.82 228.81,248.35 230.5,248.5 232.18,245.41 233.86,243.39 235.55,243.5 237.23,241.95 238.91,242.93 240.6,243.02 242.28,246.14 243.96,246.33 245.65,246.58 247.33,250.14 249.01,252.47 250.69,253.01 252.38,255.7 254.06,254.78 255.74,259.51 257.43,258.12 259.11,254.86 260.79,253.59 262.48,253.62 264.16,251.98 265.84,247.95 267.52,246.37 269.21,242.63 270.89,240.63 272.57,242.59 274.26,241.23 275.94,239.82 277.62,241.04 279.31,237.66 280.99,238.92 282.67,242.07 284.35,244.39 286.04,243.93 287.72,248.03 289.4,246.53 291.09,248.52 292.77,248.64 294.45,246.6 296.13,248.39 297.82,248.59 299.5,245.96 301.18,244.84 302.87,245.32 304.55,240.15 306.23,238.1 307.92,237.83 309.6,235.86 311.28,238.02 312.97,236.05 314.65,233.89 316.33,234.2" fill="none" stroke="#ff7f0e" stroke-width="1.6" stroke-linejoin="round"/>
<path d="M48.9 295.47L55.3 301.87M48.9 301.87L55.3 295.47M50.58 294.26L56.98 300.66M50.58 300.66L56.98 294.26M52.27 290.86L58.67 297.26M52.27 297.26L58.67 290.86M53.95 291.2L60.35 297.6M53.95 297.6L60.35 291.2M55.63 291.37L62.03 297.77M55.63 297.77L62.03 291.37M57.31 285.28L63.72 291.68M57.31 291.68L63.72 285.28M59 286.03L65.4 292.43M59 292.43L65.4 286.03M60.68 284.89L67.08 291.29M60.68 291.29L67.08 284.89M62.36 280.57L68.76 286.97M62.36 286.97L68.76 280.57M64.05 280.26L70.45 286.66M64.05 286.66L70.45 280.26M65.73 276.73L72.13 283.13M65.73 283.13L72.13 276.73M67.41 275.69L73.81 282.09M67.41 282.09L73.81 275.69M69.1 274.31L75.5 280.71M69.1 280.71L75.5 274.31M70.78 275.08L77.18 281.48M70.78 281.48L77.18 275.08M72.46 274.38L78.86 280.78M72.46 280.78L78.86 274.38M74.14 275.41L80.55 281.81M74.14 281.81L80.55 275.41M75.83 273.35L82.23 279.75M75.83 279.75L82.23 273.35M77.51 275.56L83.91 281.96M77.51 281.96L83.91 275.56M79.19 278.13L85.59 284.53M79.19 284.53L85.59 278.13M80.88 278.78L87.28 285.18M80.88 285.18L87.28 278.78M82.56 277.58L88.96 283.98M82.56 283.98L88.96 277.58M84.24 280.53L90.64 286.93M84.24 286.93L90.64 280.53M85.93 279.41L92.33 285.81M85.93 285.81L92.33 279.41M87.61 279.89L94.01 286.29M87.61 286.29L94.01 279.89M89.29 278.9L95.69 285.3M89.29 285.3L95.69 278.9M90.98 279.06L97.38 285.46M90.98 285.46L97.38 279.06M92.66 276L99.06 282.4M92.66 282.4L99.06 276M94.34 271.8L100.74 278.2M94.34 278.2L100.74 271.8M96.02 270.77L102.42 277.17M96.02 277.17L102.42 270.77M97.71 271.81L104.11 278.21M97.71 278.21L104.11 271.81M99.39 268.83L105.79 275.23M99.39 275.23L105.79 268.83M101.07 268.92L107.47 275.32M101.07 275.32L107.47 268.92M102.76 266.07L109.16 272.47M102.76 272.47L109.16 266.07M104.44 263.23L110.84 269.63M104.44 269.63L110.84 263.23M106.12 264.61L112.52 271.01M106.12 271.01L112.52 264.61M107.8 261.15L114.2 267.55M107.8 267.55L114.2 261.15M109.49 259.25L115.89 265.65M109.49 265.65L115.89 259.25M111.17 264.79L117.57 271.19M111.17 271.19L117.57 264.79M112.85 259.82L119.25 266.22M112.85 266.22L119.25 259.82M114.54 263.55L120.94 269.95M114.54 269.95L120.94 263.55M116.22 264.37L122.62 270.77M116.22 270.77L122.62 264.37M117.9 263.84L124.3 270.24M117.9 270.24L124.3 263.84M119.59 262.09L125.99 268.49M119.59 268.49L125.99 262.09M121.27 266.23L127.67 272.63M121.27 272.63L127.67 266.23M122.95 263.52L129.35 269.92M122.95 269.92L129.35 263.52M124.64 264.07L131.03 270.47M124.64 270.47L131.03 264.07M126.32 265.69L132.72 272.09M126.32 272.09L132.72 265.69M128 266.76L134.4 273.16M128 273.16L134.4 266.76M129.68 265.7L136.08 272.1M129.68 272.1L136.08 265.7M131.37 265.65L137.77 272.05M131.37 272.05L137.77 265.65M133.05 263.02L139.45 269.42M133.05 269.42L139.45 263.02M134.73 262.13L141.13 268.53M134.73 268.53L141.13 262.13M136.42 258.65L142.82 265.05M136.42 265.05L142.82 258.65M138.1 257.49L144.5 263.89M138.1 263.89L144.5 257.49M139.78 256.45L146.18 262.85M139.78 262.85L146.18 256.45M141.47 253.15L147.86 259.55M141.47 259.55L147.86 253.15M143.15 252.33L149.55 258.73M143.15 258.73L149.55 252.33M144.83 249.55L151.23 255.95M144.83 255.95L151.23 249.55M146.51 248.53L152.91 254.93M146.51 254.93L152.91 248.53M148.2 249.39L154.6 255.79M148.2 255.79L154.6 249.39M149.88 250.18L156.28 256.58M149.88 256.58L156.28 250.18M151.56 252.35L157.96 258.75M151.56 258.75L157.96 252.35M153.25 253.22L159.65 259.62M153.25 259.62L159.65 253.22M154.93 256.66L161.33 263.06M154.93 263.06L161.33 256.66M156.61 255.66L163.01 262.06M156.61 262.06L163.01 255.66M158.3 257.34L164.69 263.74M158.3 263.74L164.69 257.34M159.98 257.98L166.38 264.38M159.98 264.38L166.38 257.98M161.66 261.09L168.06 267.49M161.66 267.49L168.06 261.09M163.34 263.68L169.74 270.08M163.34 270.08L169.74 263.68M165.03 263.4L171.43 269.8M165.03 269.8L171.43 263.4M166.71 265.52L173.11 271.92M166.71 271.92L173.11 265.52M168.39 267.75L174.79 274.15M168.39 274.15L174.79 267.75M170.08 266.88L176.48 273.28M170.08 273.28L176.48 266.88M171.76 265.95L178.16 272.35M171.76 272.35L178.16 265.95M173.44 267.47L179.84 273.87M173.44 273.87L179.84 267.47M175.13 263.75L181.53 270.15M175.13 270.15L181.53 263.75M176.81 261.56L183.21 267.96M176.81 267.96L183.21 261.56M178.49 260.21L184.89 266.61M178.49 266.61L184.89 260.21M180.17 258.14L186.57 264.54M180.17 264.54L186.57 258.14M181.86 254.16L188.26 260.56M181.86 260.56L188.26 254.16M183.54 252.11L189.94 258.51M183.54 258.51L189.94 252.11M185.22 251.43L191.62 257.83M185.22 257.83L191.62 251.43M186.91 249.24L193.31 255.64M186.91 255.64L193.31 249.24M188.59 246.1L194.99 252.5M188.59 252.5L194.99 246.1M190.27 249.38L196.67 255.78M190.27 255.78L196.67 249.38M191.96 247.33L198.35 253.73M191.96 253.73L198.35 247.33M193.64 248.26L200.04 254.66M193.64 254.66L200.04 248.26M195.32 246.44L201.72 252.84M195.32 252.84L201.72 246.44M197 250.97L203.4 257.37M197 257.37L203.4 250.97M198.69 249.9L205.09 256.3M198.69 256.3L205.09 249.9M200.37 251.89L206.77 258.29M200.37 258.29L206.77 251.89M202.05 251.83L208.45 258.23M202.05 258.23L208.45 251.83M203.74 255.13L210.14 261.53M203.74 261.53L210.14 255.13M205.42 256.66L211.82 263.06M205.42 263.06L211.82 256.66M207.1 258.03L213.5 264.43M207.1 264.43L213.5 258.03M208.78 260.15L215.18 266.55M208.78 266.55L215.18 260.15M210.47 259.67L216.87 266.07M210.47 266.07L216.87 259.67M212.15 260.01L218.55 266.41M212.15 266.41L218.55 260.01M213.83 257.28L220.23 263.68M213.83 263.68L220.23 257.28M215.52 254.6L221.92 261M215.52 261L221.92 254.6M217.2 253.76L223.6 260.16M217.2 260.16L223.6 253.76M218.88 252.48L225.28 258.88M218.88 258.88L225.28 252.48M220.57 251.17L226.97 257.57M220.57 257.57L226.97 251.17M222.25 248.49L228.65 254.89M222.25 254.89L228.65 248.49M223.93 243.62L230.33 250.02M223.93 250.02L230.33 243.62M225.62 245.15L232.01 251.55M225.62 251.55L232.01 245.15M227.3 245.3L233.7 251.7M227.3 251.7L233.7 245.3M228.98 242.21L235.38 248.61M228.98 248.61L235.38 242.21M230.66 240.19L237.06 246.59M230.66 246.59L237.06 240.19M232.35 240.3L238.75 246.7M232.35 246.7L238.75 240.3M234.03 238.75L240.43 245.15M234.03 245.15L240.43 238.75M235.71 239.73L242.11 246.13M235.71 246.13L242.11 239.73M237.4 239.82L243.8 246.22M237.4 246.22L243.8 239.82M239.08 242.94L245.48 249.34M239.08 249.34L245.48 242.94M240.76 243.13L247.16 249.53M240.76 249.53L247.16 243.13M242.45 243.38L248.84 249.78M242.45 249.78L248.84 243.38M244.13 246.94L250.53 253.34M244.13 253.34L250.53 246.94M245.81 249.27L252.21 255.67M245.81 255.67L252.21 249.27M247.49 249.81L253.89 256.21M247.49 256.21L253.89 249.81M249.18 252.5L255.58 258.9M249.18 258.9L255.58 252.5M250.86 251.58L257.26 257.98M250.86 257.98L257.26 251.58M252.54 256.31L258.94 262.71M252.54 262.71L258.94 256.31M254.23 254.92L260.63 261.32M254.23 261.32L260.63 254.92M255.91 251.66L262.31 258.06M255.91 258.06L262.31 251.66M257.59 250.39L263.99 256.79M257.59 256.79L263.99 250.39M259.28 250.42L265.68 256.82M259.28 256.82L265.68 250.42M260.96 248.78L267.36 255.18M260.96 255.18L267.36 248.78M262.64 244.75L269.04 251.15M262.64 251.15L269.04 244.75M264.32 243.17L270.72 249.57M264.32 249.57L270.72 243.17M266.01 239.43L272.41 245.83M266.01 245.83L272.41 239.43M267.69 237.43L274.09 243.83M267.69 243.83L274.09 237.43M269.37 239.39L275.77 245.79M269.37 245.79L275.77 239.39M271.06 238.03L277.46 244.43M271.06 244.43L277.46 238.03M272.74 236.62L279.14 243.02M272.74 243.02L279.14 236.62M274.42 237.84L280.82 244.24M274.42 244.24L280.82 237.84M276.11 234.46L282.5 240.86M276.11 240.86L282.5 234.46M277.79 235.72L284.19 242.12M277.79 242.12L284.19 235.72M279.47 238.87L285.87 245.27M279.47 245.27L285.87 238.87M281.15 241.19L287.55 247.59M281.15 247.59L287.55 241.19M282.84 240.73L289.24 247.13M282.84 247.13L289.24 240.73M284.52 244.83L290.92 251.23M284.52 251.23L290.92 244.83M286.2 243.33L292.6 249.73M286.2 249.73L292.6 243.33M287.89 245.32L294.29 251.72M287.89 251.72L294.29 245.32M289.57 245.44L295.97 251.84M289.57 251.84L295.97 245.44M291.25 243.4L297.65 249.8M291.25 249.8L297.65 243.4M292.94 245.19L299.33 251.59M292.94 251.59L299.33 245.19M294.62 245.39L301.02 251.79M294.62 251.79L301.02 245.39M296.3 242.76L302.7 249.16M296.3 249.16L302.7 242.76M297.98 241.64L304.38 248.04M297.98 248.04L304.38 241.64M299.67 242.12L306.07 248.52M299.67 248.52L306.07 242.12M301.35 236.95L307.75 243.35M301.35 243.35L307.75 236.95M303.03 234.9L309.43 241.3M303.03 241.3L309.43 234.9M304.72 234.63L311.12 241.03M304.72 241.03L311.12 234.63M306.4 232.66L312.8 239.06M306.4 239.06L312.8 232.66M308.08 234.82L314.48 241.22M308.08 241.22L314.48 234.82M309.77 232.85L316.17 239.25M309.77 239.25L316.17 232.85M311.45 230.69L317.85 237.09M311.45 237.09L317.85 230.69M313.13 231L319.53 237.4M313.13 237.4L319.53 231" stroke="#ff7f0e" stroke-width="1.2" fill="none"/>
</g>
<rect x="39.4" y="212.3" width="290.1" height="115.4" fill="none" stroke="#262626" stroke-width="1.1"/>
<text x="52.1" y="343.6" font-size="10.59" text-anchor="middle" textLength="6.62" lengthAdjust="spacingAndGlyphs">0</text>
<text x="85.76" y="343.6" font-size="10.59" text-anchor="middle" textLength="13.23" lengthAdjust="spacingAndGlyphs">20</text>
<text x="119.42" y="343.6" font-size="10.59" text-anchor="middle" textLength="13.23" lengthAdjust="spacingAndGlyphs">40</text>
<text x="153.08" y="343.6" font-size="10.59" text-anchor="middle" textLength="13.23" lengthAdjust="spacingAndGlyphs">60</text>
<text x="186.74" y="343.6" font-size="10.59" text-anchor="middle" textLength="13.23" lengthAdjust="spacingAndGlyphs">80</text>
<text x="220.4" y="343.6" font-size="10.59" text-anchor="middle" textLength="19.85" lengthAdjust="spacingAndGlyphs">100</text>
<text x="254.06" y="343.6" font-size="10.59" text-anchor="middle" textLength="19.85" lengthAdjust="spacingAndGlyphs">120</text>
<text x="287.72" y="343.6" font-size="10.59" text-anchor="middle" textLength="19.85" lengthAdjust="spacingAndGlyphs">140</text>
<text x="321.38" y="343.6" font-size="10.59" text-anchor="middle" textLength="19.85" lengthAdjust="spacingAndGlyphs">160</text>
<text x="31.3" y="225.4" font-size="10.59" text-anchor="end" textLength="13.23" lengthAdjust="spacingAndGlyphs">24</text>
<text x="31.3" y="249.9" font-size="10.59" text-anchor="end" textLength="13.23" lengthAdjust="spacingAndGlyphs">22</text>
<text x="31.3" y="274.3" font-size="10.59" text-anchor="end" textLength="13.23" lengthAdjust="spacingAndGlyphs">20</text>
<text x="31.3" y="298.8" font-size="10.59" text-anchor="end" textLength="13.23" lengthAdjust="spacingAndGlyphs">18</text>
<text x="31.3" y="323.3" font-size="10.59" text-anchor="end" textLength="13.23" lengthAdjust="spacingAndGlyphs">16</text>
<path d="M52.1 327.7V331.4M85.76 327.7V331.4M119.42 327.7V331.4M153.08 327.7V331.4M186.74 327.7V331.4M220.4 327.7V331.4M254.06 327.7V331.4M287.72 327.7V331.4M321.38 327.7V331.4M39.4 221.6H35.7M39.4 246.1H35.7M39.4 270.5H35.7M39.4 295H35.7M39.4 319.5H35.7" stroke="#262626" stroke-width="1.1"/>
<text x="184.45" y="358.1" font-size="10.59" text-anchor="middle" textLength="28.63" lengthAdjust="spacingAndGlyphs">Index</text>
<g transform="translate(12.3,270.6) rotate(-90)"><text x="0" y="0" font-size="10.59" text-anchor="middle" textLength="33.98" lengthAdjust="spacingAndGlyphs">Values</text></g>
<text x="184.45" y="206.2" font-size="12.76" text-anchor="middle" textLength="189.46" lengthAdjust="spacingAndGlyphs">Conformal Prediction Intervals</text>
<text x="2.4" y="351.6" class="pl">(c)</text>
<rect x="165.6" y="273.6" width="158.8" height="48.8" rx="2" ry="2" fill="#ffffff" fill-opacity="0.8" stroke="#d6d6d6" stroke-width="1"/>
<path d="M169.2 282.2H191" stroke="#1f77b4" stroke-width="1.6"/>
<circle cx="180.1" cy="282.2" r="3.6" fill="#1f77b4"/>
<path d="M169.2 297.4H191" stroke="#ff7f0e" stroke-width="1.6"/>
<path d="M176.9 294.2L183.3 300.6M176.9 300.6L183.3 294.2" stroke="#ff7f0e" stroke-width="1.1"/>
<rect x="169.2" y="308.7" width="21.8" height="7.8" fill="#bfbfbf"/>
<text x="199.2" y="285.9" font-size="10.59" text-anchor="start" textLength="48.82" lengthAdjust="spacingAndGlyphs">Predicted</text>
<text x="199.2" y="301.1" font-size="10.59" text-anchor="start" textLength="32.58" lengthAdjust="spacingAndGlyphs">Actual</text>
<text x="199.2" y="316.3" font-size="10.59" text-anchor="start" textLength="121.22" lengthAdjust="spacingAndGlyphs">95% Prediction Interval</text>
<clipPath id="clipd"><rect x="389.7" y="212.5" width="292.5" height="115.8"/></clipPath>
<g clip-path="url(#clipd)">
<polygon points="402.9,276.2 407.12,275.7 411.34,274.7 415.56,265.5 419.78,267 424,266.5 428.22,266.7 432.44,266.2 436.66,265.9 440.88,261.9 445.1,261.9 449.32,262.3 453.54,263.3 457.76,264.9 461.98,260.2 466.2,254 470.42,257.2 474.64,256.1 478.86,257.1 483.08,254 487.3,256.4 491.52,252.9 495.74,253.5 499.96,250.9 504.18,255.5 508.4,257.1 512.62,250.4 516.84,243.2 521.06,248.4 525.28,248 529.5,247 533.72,242.9 537.94,245.7 542.16,243.6 546.38,241.5 550.6,244.3 554.82,245.9 559.04,248 563.26,240.7 567.48,233.7 571.7,240 575.92,241.3 580.14,240 584.36,232.3 588.58,237.9 592.8,235.8 597.02,235.8 601.24,232.3 605.46,236.5 609.68,241.9 613.9,231.7 618.12,224.5 622.34,231 626.56,235.6 630.78,229.5 635,221.3 639.22,229.5 643.44,228.7 647.66,228 651.88,222 656.1,227.2 660.32,231 664.54,224.2 668.76,217.5 668.76,264.1 664.54,270.8 660.32,277.6 656.1,273.8 651.88,268.6 647.66,274.6 643.44,275.3 639.22,276.1 635,267.9 630.78,276.1 626.56,282.2 622.34,277.6 618.12,271.1 613.9,278.3 609.68,288.5 605.46,283.1 601.24,278.9 597.02,282.4 592.8,282.4 588.58,284.5 584.36,278.9 580.14,286.6 575.92,287.9 571.7,286.6 567.48,280.3 563.26,287.3 559.04,294.6 554.82,292.5 550.6,290.9 546.38,288.1 542.16,290.2 537.94,292.3 533.72,289.5 529.5,293.6 525.28,294.6 521.06,295 516.84,289.8 512.62,297 508.4,303.7 504.18,302.1 499.96,297.5 495.74,300.1 491.52,299.5 487.3,303 483.08,300.6 478.86,303.7 474.64,302.7 470.42,303.8 466.2,300.6 461.98,306.8 457.76,311.5 453.54,309.9 449.32,308.9 445.1,308.5 440.88,308.5 436.66,312.5 432.44,312.8 428.22,313.3 424,313.1 419.78,313.6 415.56,312.1 411.34,321.3 407.12,322.3 402.9,322.8" fill="#808080" fill-opacity="0.5" stroke="#808080" stroke-opacity="0.5" stroke-width="1" stroke-linejoin="round"/>
<polyline points="402.9,299.5 407.12,299 411.34,298 415.56,288.8 419.78,290.3 424,289.8 428.22,290 432.44,289.5 436.66,289.2 440.88,285.2 445.1,285.2 449.32,285.6 453.54,286.6 457.76,288.2 461.98,283.5 466.2,277.3 470.42,280.5 474.64,279.4 478.86,280.4 483.08,277.3 487.3,279.7 491.52,276.2 495.74,276.8 499.96,274.2 504.18,278.8 508.4,280.4 512.62,273.7 516.84,266.5 521.06,271.7 525.28,271.3 529.5,270.3 533.72,266.2 537.94,269 542.16,266.9 546.38,264.8 550.6,267.6 554.82,269.2 559.04,271.3 563.26,264 567.48,257 571.7,263.3 575.92,264.6 580.14,263.3 584.36,255.6 588.58,261.2 592.8,259.1 597.02,259.1 601.24,255.6 605.46,259.8 609.68,265.2 613.9,255 618.12,247.8 622.34,254.3 626.56,258.9 630.78,252.8 635,244.6 639.22,252.8 643.44,252 647.66,251.3 651.88,245.3 656.1,250.5 660.32,254.3 664.54,247.5 668.76,240.8" fill="none" stroke="#1f77b4" stroke-width="1.6" stroke-linejoin="round"/>
<g fill="#1f77b4"><circle cx="402.9" cy="299.5" r="3.6"/><circle cx="407.12" cy="299" r="3.6"/><circle cx="411.34" cy="298" r="3.6"/><circle cx="415.56" cy="288.8" r="3.6"/><circle cx="419.78" cy="290.3" r="3.6"/><circle cx="424" cy="289.8" r="3.6"/><circle cx="428.22" cy="290" r="3.6"/><circle cx="432.44" cy="289.5" r="3.6"/><circle cx="436.66" cy="289.2" r="3.6"/><circle cx="440.88" cy="285.2" r="3.6"/><circle cx="445.1" cy="285.2" r="3.6"/><circle cx="449.32" cy="285.6" r="3.6"/><circle cx="453.54" cy="286.6" r="3.6"/><circle cx="457.76" cy="288.2" r="3.6"/><circle cx="461.98" cy="283.5" r="3.6"/><circle cx="466.2" cy="277.3" r="3.6"/><circle cx="470.42" cy="280.5" r="3.6"/><circle cx="474.64" cy="279.4" r="3.6"/><circle cx="478.86" cy="280.4" r="3.6"/><circle cx="483.08" cy="277.3" r="3.6"/><circle cx="487.3" cy="279.7" r="3.6"/><circle cx="491.52" cy="276.2" r="3.6"/><circle cx="495.74" cy="276.8" r="3.6"/><circle cx="499.96" cy="274.2" r="3.6"/><circle cx="504.18" cy="278.8" r="3.6"/><circle cx="508.4" cy="280.4" r="3.6"/><circle cx="512.62" cy="273.7" r="3.6"/><circle cx="516.84" cy="266.5" r="3.6"/><circle cx="521.06" cy="271.7" r="3.6"/><circle cx="525.28" cy="271.3" r="3.6"/><circle cx="529.5" cy="270.3" r="3.6"/><circle cx="533.72" cy="266.2" r="3.6"/><circle cx="537.94" cy="269" r="3.6"/><circle cx="542.16" cy="266.9" r="3.6"/><circle cx="546.38" cy="264.8" r="3.6"/><circle cx="550.6" cy="267.6" r="3.6"/><circle cx="554.82" cy="269.2" r="3.6"/><circle cx="559.04" cy="271.3" r="3.6"/><circle cx="563.26" cy="264" r="3.6"/><circle cx="567.48" cy="257" r="3.6"/><circle cx="571.7" cy="263.3" r="3.6"/><circle cx="575.92" cy="264.6" r="3.6"/><circle cx="580.14" cy="263.3" r="3.6"/><circle cx="584.36" cy="255.6" r="3.6"/><circle cx="588.58" cy="261.2" r="3.6"/><circle cx="592.8" cy="259.1" r="3.6"/><circle cx="597.02" cy="259.1" r="3.6"/><circle cx="601.24" cy="255.6" r="3.6"/><circle cx="605.46" cy="259.8" r="3.6"/><circle cx="609.68" cy="265.2" r="3.6"/><circle cx="613.9" cy="255" r="3.6"/><circle cx="618.12" cy="247.8" r="3.6"/><circle cx="622.34" cy="254.3" r="3.6"/><circle cx="626.56" cy="258.9" r="3.6"/><circle cx="630.78" cy="252.8" r="3.6"/><circle cx="635" cy="244.6" r="3.6"/><circle cx="639.22" cy="252.8" r="3.6"/><circle cx="643.44" cy="252" r="3.6"/><circle cx="647.66" cy="251.3" r="3.6"/><circle cx="651.88" cy="245.3" r="3.6"/><circle cx="656.1" cy="250.5" r="3.6"/><circle cx="660.32" cy="254.3" r="3.6"/><circle cx="664.54" cy="247.5" r="3.6"/><circle cx="668.76" cy="240.8" r="3.6"/></g>
<polyline points="402.9,303 407.12,304.6 411.34,303.3 415.56,296.5 419.78,292.4 424,288.2 428.22,286.4 432.44,283.5 436.66,276.9 440.88,274.5 445.1,271.5 449.32,269.8 453.54,268.5 457.76,262.5 461.98,258 466.2,259.5 470.42,269 474.64,262.5 478.86,267.9 483.08,266.1 487.3,264.9 491.52,267.9 495.74,267.9 499.96,269 504.18,266.8 508.4,267 512.62,268 516.84,271.3 521.06,265.5 525.28,263.4 529.5,260.6 533.72,257.9 537.94,249.5 542.16,250.2 546.38,245.4 550.6,246.1 554.82,246.3 559.04,242.5 563.26,240.5 567.48,245.9 571.7,245.2 575.92,244.5 580.14,243.9 584.36,243.9 588.58,242.5 592.8,248.7 597.02,250.8 601.24,249.4 605.46,248.5 609.68,246.6 613.9,247 618.12,244.4 622.34,248.2 626.56,248.2 630.78,244.4 635,246.7 639.22,245.9 643.44,242.1 647.66,241.4 651.88,240.6 656.1,234.5 660.32,236.8 664.54,236.8 668.76,232.2" fill="none" stroke="#ff7f0e" stroke-width="1.6" stroke-linejoin="round"/>
<path d="M399.7 299.8L406.1 306.2M399.7 306.2L406.1 299.8M403.92 301.4L410.32 307.8M403.92 307.8L410.32 301.4M408.14 300.1L414.54 306.5M408.14 306.5L414.54 300.1M412.36 293.3L418.76 299.7M412.36 299.7L418.76 293.3M416.58 289.2L422.98 295.6M416.58 295.6L422.98 289.2M420.8 285L427.2 291.4M420.8 291.4L427.2 285M425.02 283.2L431.42 289.6M425.02 289.6L431.42 283.2M429.24 280.3L435.64 286.7M429.24 286.7L435.64 280.3M433.46 273.7L439.86 280.1M433.46 280.1L439.86 273.7M437.68 271.3L444.08 277.7M437.68 277.7L444.08 271.3M441.9 268.3L448.3 274.7M441.9 274.7L448.3 268.3M446.12 266.6L452.52 273M446.12 273L452.52 266.6M450.34 265.3L456.74 271.7M450.34 271.7L456.74 265.3M454.56 259.3L460.96 265.7M454.56 265.7L460.96 259.3M458.78 254.8L465.18 261.2M458.78 261.2L465.18 254.8M463 256.3L469.4 262.7M463 262.7L469.4 256.3M467.22 265.8L473.62 272.2M467.22 272.2L473.62 265.8M471.44 259.3L477.84 265.7M471.44 265.7L477.84 259.3M475.66 264.7L482.06 271.1M475.66 271.1L482.06 264.7M479.88 262.9L486.28 269.3M479.88 269.3L486.28 262.9M484.1 261.7L490.5 268.1M484.1 268.1L490.5 261.7M488.32 264.7L494.72 271.1M488.32 271.1L494.72 264.7M492.54 264.7L498.94 271.1M492.54 271.1L498.94 264.7M496.76 265.8L503.16 272.2M496.76 272.2L503.16 265.8M500.98 263.6L507.38 270M500.98 270L507.38 263.6M505.2 263.8L511.6 270.2M505.2 270.2L511.6 263.8M509.42 264.8L515.82 271.2M509.42 271.2L515.82 264.8M513.64 268.1L520.04 274.5M513.64 274.5L520.04 268.1M517.86 262.3L524.26 268.7M517.86 268.7L524.26 262.3M522.08 260.2L528.48 266.6M522.08 266.6L528.48 260.2M526.3 257.4L532.7 263.8M526.3 263.8L532.7 257.4M530.52 254.7L536.92 261.1M530.52 261.1L536.92 254.7M534.74 246.3L541.14 252.7M534.74 252.7L541.14 246.3M538.96 247L545.36 253.4M538.96 253.4L545.36 247M543.18 242.2L549.58 248.6M543.18 248.6L549.58 242.2M547.4 242.9L553.8 249.3M547.4 249.3L553.8 242.9M551.62 243.1L558.02 249.5M551.62 249.5L558.02 243.1M555.84 239.3L562.24 245.7M555.84 245.7L562.24 239.3M560.06 237.3L566.46 243.7M560.06 243.7L566.46 237.3M564.28 242.7L570.68 249.1M564.28 249.1L570.68 242.7M568.5 242L574.9 248.4M568.5 248.4L574.9 242M572.72 241.3L579.12 247.7M572.72 247.7L579.12 241.3M576.94 240.7L583.34 247.1M576.94 247.1L583.34 240.7M581.16 240.7L587.56 247.1M581.16 247.1L587.56 240.7M585.38 239.3L591.78 245.7M585.38 245.7L591.78 239.3M589.6 245.5L596 251.9M589.6 251.9L596 245.5M593.82 247.6L600.22 254M593.82 254L600.22 247.6M598.04 246.2L604.44 252.6M598.04 252.6L604.44 246.2M602.26 245.3L608.66 251.7M602.26 251.7L608.66 245.3M606.48 243.4L612.88 249.8M606.48 249.8L612.88 243.4M610.7 243.8L617.1 250.2M610.7 250.2L617.1 243.8M614.92 241.2L621.32 247.6M614.92 247.6L621.32 241.2M619.14 245L625.54 251.4M619.14 251.4L625.54 245M623.36 245L629.76 251.4M623.36 251.4L629.76 245M627.58 241.2L633.98 247.6M627.58 247.6L633.98 241.2M631.8 243.5L638.2 249.9M631.8 249.9L638.2 243.5M636.02 242.7L642.42 249.1M636.02 249.1L642.42 242.7M640.24 238.9L646.64 245.3M640.24 245.3L646.64 238.9M644.46 238.2L650.86 244.6M644.46 244.6L650.86 238.2M648.68 237.4L655.08 243.8M648.68 243.8L655.08 237.4M652.9 231.3L659.3 237.7M652.9 237.7L659.3 231.3M657.12 233.6L663.52 240M657.12 240L663.52 233.6M661.34 233.6L667.74 240M661.34 240L667.74 233.6M665.56 229L671.96 235.4M665.56 235.4L671.96 229" stroke="#ff7f0e" stroke-width="1.2" fill="none"/>
</g>
<rect x="389.7" y="212.5" width="292.5" height="115.8" fill="none" stroke="#262626" stroke-width="1.1"/>
<text x="402.9" y="343.9" font-size="10.59" text-anchor="middle" textLength="6.62" lengthAdjust="spacingAndGlyphs">0</text>
<text x="445.1" y="343.9" font-size="10.59" text-anchor="middle" textLength="13.23" lengthAdjust="spacingAndGlyphs">10</text>
<text x="487.3" y="343.9" font-size="10.59" text-anchor="middle" textLength="13.23" lengthAdjust="spacingAndGlyphs">20</text>
<text x="529.5" y="343.9" font-size="10.59" text-anchor="middle" textLength="13.23" lengthAdjust="spacingAndGlyphs">30</text>
<text x="571.7" y="343.9" font-size="10.59" text-anchor="middle" textLength="13.23" lengthAdjust="spacingAndGlyphs">40</text>
<text x="613.9" y="343.9" font-size="10.59" text-anchor="middle" textLength="13.23" lengthAdjust="spacingAndGlyphs">50</text>
<text x="656.1" y="343.9" font-size="10.59" text-anchor="middle" textLength="13.23" lengthAdjust="spacingAndGlyphs">60</text>
<text x="381.6" y="232.4" font-size="10.59" text-anchor="end" textLength="13.23" lengthAdjust="spacingAndGlyphs">12</text>
<text x="381.6" y="257.3" font-size="10.59" text-anchor="end" textLength="13.23" lengthAdjust="spacingAndGlyphs">11</text>
<text x="381.6" y="282.3" font-size="10.59" text-anchor="end" textLength="13.23" lengthAdjust="spacingAndGlyphs">10</text>
<text x="381.6" y="307.2" font-size="10.59" text-anchor="end" textLength="6.62" lengthAdjust="spacingAndGlyphs">9</text>
<path d="M402.9 328.3V332M445.1 328.3V332M487.3 328.3V332M529.5 328.3V332M571.7 328.3V332M613.9 328.3V332M656.1 328.3V332M389.7 228.6H386M389.7 253.5H386M389.7 278.5H386M389.7 303.4H386" stroke="#262626" stroke-width="1.1"/>
<text x="535.95" y="358.2" font-size="10.59" text-anchor="middle" textLength="28.63" lengthAdjust="spacingAndGlyphs">Index</text>
<g transform="translate(362.5,271) rotate(-90)"><text x="0" y="0" font-size="10.59" text-anchor="middle" textLength="33.98" lengthAdjust="spacingAndGlyphs">Values</text></g>
<text x="535.95" y="206.4" font-size="12.85" text-anchor="middle" textLength="190.82" lengthAdjust="spacingAndGlyphs">Conformal Prediction Intervals</text>
<text x="354.4" y="351.6" class="pl">(d)</text>
<rect x="516.9" y="274.3" width="159.8" height="48.3" rx="2" ry="2" fill="#ffffff" fill-opacity="0.8" stroke="#d6d6d6" stroke-width="1"/>
<path d="M520.5 282.9H542.3" stroke="#1f77b4" stroke-width="1.6"/>
<circle cx="531.4" cy="282.9" r="3.6" fill="#1f77b4"/>
<path d="M520.5 298.1H542.3" stroke="#ff7f0e" stroke-width="1.6"/>
<path d="M528.2 294.9L534.6 301.3M528.2 301.3L534.6 294.9" stroke="#ff7f0e" stroke-width="1.1"/>
<rect x="520.5" y="309.4" width="21.8" height="7.8" fill="#bfbfbf"/>
<text x="550.5" y="286.6" font-size="10.59" text-anchor="start" textLength="48.82" lengthAdjust="spacingAndGlyphs">Predicted</text>
<text x="550.5" y="301.8" font-size="10.59" text-anchor="start" textLength="32.58" lengthAdjust="spacingAndGlyphs">Actual</text>
<text x="550.5" y="317" font-size="10.59" text-anchor="start" textLength="121.22" lengthAdjust="spacingAndGlyphs">95% Prediction Interval</text>
</svg></div>
</body></html>
